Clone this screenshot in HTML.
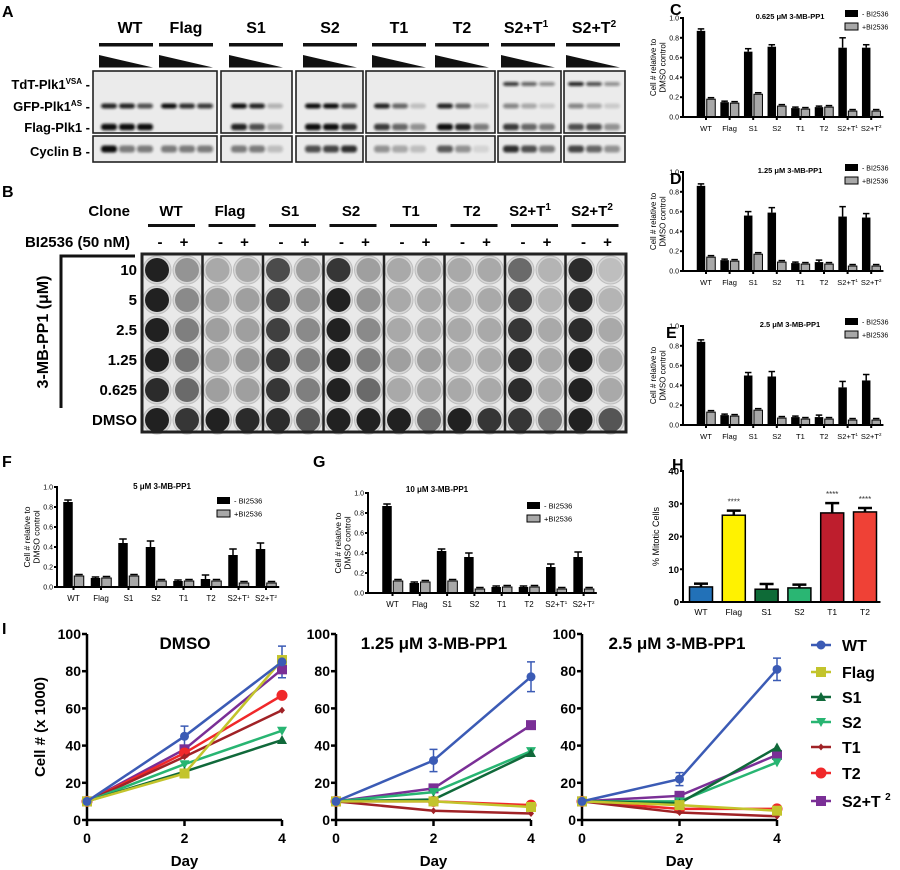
<!DOCTYPE html>
<html><head><meta charset="utf-8">
<style>
html,body{margin:0;padding:0;background:#fff;}
svg{display:block;font-family:"Liberation Sans",Arial,sans-serif;}
.b{font-weight:bold;}
</style></head>
<body>
<svg id="fig" width="900" height="870" viewBox="0 0 900 870" xmlns="http://www.w3.org/2000/svg">
<defs>
<filter id="blur" x="-50%" y="-100%" width="200%" height="300%"><feGaussianBlur stdDeviation="1.3"/></filter>
</defs>
<text x="2" y="17" font-size="16" class="b">A</text>
<text x="2" y="197" font-size="16" class="b">B</text>
<text x="670" y="15" font-size="16" class="b">C</text>
<text x="670" y="184" font-size="16" class="b">D</text>
<text x="666" y="338" font-size="16" class="b">E</text>
<text x="2" y="467" font-size="16" class="b">F</text>
<text x="313" y="467" font-size="16" class="b">G</text>
<text x="672" y="470" font-size="16" class="b">H</text>
<text x="2" y="634" font-size="16" class="b">I</text>

<g class="b" font-size="16" text-anchor="middle">
<text x="130" y="33">WT</text><text x="186" y="33">Flag</text><text x="256" y="33">S1</text><text x="330" y="33">S2</text>
<text x="399" y="33">T1</text><text x="462" y="33">T2</text>
<text x="526" y="33">S2+T<tspan font-size="10" dy="-6">1</tspan></text>
<text x="594" y="33">S2+T<tspan font-size="10" dy="-6">2</tspan></text>
</g>
<g class="b" font-size="13" text-anchor="end">
<text x="90" y="89">TdT-Plk1<tspan font-size="8" dy="-5">VSA</tspan><tspan dy="5"> -</tspan></text>
<text x="90" y="111">GFP-Plk1<tspan font-size="8" dy="-5">AS</tspan><tspan dy="5"> -</tspan></text>
<text x="90" y="132">Flag-Plk1  -</text>
<text x="90" y="156">Cyclin B  -</text>
</g>
<g id="blotA"></g>

<g class="b" font-size="15">
<text x="130" y="216" text-anchor="end">Clone</text>
<text x="130" y="247" text-anchor="end">BI2536 (50 nM)</text>
</g>
<g class="b" font-size="15" text-anchor="middle">
<text x="171" y="216">WT</text><text x="230" y="216">Flag</text><text x="290" y="216">S1</text><text x="351" y="216">S2</text>
<text x="411" y="216">T1</text><text x="472" y="216">T2</text>
<text x="530" y="216">S2+T<tspan font-size="10" dy="-6">1</tspan></text>
<text x="592" y="216">S2+T<tspan font-size="10" dy="-6">2</tspan></text>
</g>
<g class="b" font-size="15" text-anchor="end">
<text x="137" y="275">10</text><text x="137" y="305">5</text><text x="137" y="335">2.5</text>
<text x="137" y="365">1.25</text><text x="137" y="395">0.625</text><text x="137" y="425">DMSO</text>
</g>
<path d="M135 256 H61 V408" stroke="#111" stroke-width="3" fill="none"/>
<text transform="translate(48,332) rotate(-90)" text-anchor="middle" font-size="16" class="b">3-MB-PP1 (μM)</text>
<g id="plateB"></g>

<g id="barC"></g>
<g id="barD"></g>
<g id="barE"></g>
<g id="barF"></g>
<g id="barG"></g>
<g id="barH"></g>
<g id="lineI"></g>
</svg>

<script>
const barCategories = ['WT','Flag','S1','S2','T1','T2','S2+T1','S2+T2'];
const cMinus = [0.87,0.15,0.66,0.71,0.09,0.10,0.70,0.70];
const cPlus  = [0.18,0.14,0.23,0.11,0.08,0.10,0.06,0.06];
const cMinusErr = [0.02,0.01,0.03,0.02,0.01,0.01,0.10,0.03];
const dMinus = [0.86,0.11,0.56,0.59,0.08,0.09,0.55,0.54];
const dPlus  = [0.14,0.10,0.17,0.09,0.07,0.07,0.05,0.05];
const dMinusErr = [0.02,0.01,0.04,0.05,0.01,0.02,0.10,0.04];
const eMinus = [0.84,0.10,0.50,0.49,0.08,0.08,0.38,0.45];
const ePlus  = [0.13,0.09,0.15,0.07,0.06,0.06,0.05,0.05];
const eMinusErr = [0.02,0.01,0.03,0.05,0.01,0.02,0.06,0.06];
const fMinus = [0.85,0.09,0.44,0.40,0.06,0.08,0.32,0.38];
const fPlus  = [0.11,0.09,0.11,0.06,0.06,0.06,0.04,0.04];
const fMinusErr = [0.02,0.01,0.04,0.06,0.01,0.04,0.06,0.06];
const gMinus = [0.87,0.10,0.42,0.36,0.06,0.06,0.26,0.36];
const gPlus  = [0.12,0.11,0.12,0.04,0.06,0.06,0.04,0.04];
const gMinusErr = [0.02,0.01,0.02,0.04,0.01,0.01,0.03,0.05];
const barTicks = [0,0.2,0.4,0.6,0.8,1.0];

const hCategories = ['WT','Flag','S1','S2','T1','T2'];
const hValues = [4.6,26.5,3.9,4.3,27.2,27.5];
const hErr = [1.0,1.4,1.6,1.0,3.0,1.2];
const hStars = [false,true,false,false,true,true];
const hTicks = [0,10,20,30,40];

const days = [0,2,4];
const lineTicks = [0,20,40,60,80,100];
const seriesNames = ['WT','Flag','S1','S2','T1','T2','S2+T2'];
const dmsoWT=[10,45,85], dmsoFlag=[10,25,86], dmsoS1=[10,26,43], dmsoS2=[10,30,48], dmsoT1=[10,34,59], dmsoT2=[10,36,67], dmsoS2T2=[10,38,81];
const lowWT=[10,32,77], lowFlag=[10,10,7], lowS1=[10,11,36], lowS2=[10,15,37], lowT1=[10,5,3.5], lowT2=[10,10,8], lowS2T2=[10,17,51];
const highWT=[10,22,81], highFlag=[10,8,5], highS1=[10,9,39], highS2=[10,10,31], highT1=[10,4,2], highT2=[10,6,6], highS2T2=[10,13,35];
const dmsoWTErr=[1,5.5,8.5], lowWTErr=[1,6,8], highWTErr=[1,3.5,6];

const NS='http://www.w3.org/2000/svg';
function mk(tag, attrs, parent){const e=document.createElementNS(NS,tag);for(const k in attrs)e.setAttribute(k,attrs[k]);parent.appendChild(e);return e;}
function catLabel(parent,label,x,y,fs){
  const t=mk('text',{x:x,y:y,'font-size':fs,'text-anchor':'middle'},parent);
  if(label.startsWith('S2+T')){t.textContent='S2+T';const s=mk('tspan',{'font-size':fs*0.6,dy:-fs*0.4},t);s.textContent=label.slice(4);}
  else t.textContent=label;
  return t;
}

(function(){
  const g=document.getElementById('blotA');
  const groupStarts=[99,159,229,303,372,435,501,566];
  const boxes=[[93,217],[221,292],[296,363],[366,495],[498,561],[564,625]];
  groupStarts.forEach((x,i)=>{
    const ln=mk('rect',{x:x,y:43,width:54,height:3.5,fill:'#111'},g);
    
    
    const tri=mk('polygon',{points:`${x},55 ${x+54},67.5 ${x},67.5`,fill:'#111'},g);
    
    
  });
  boxes.forEach(b=>{
    const r1=mk('rect',{x:b[0],y:71,width:b[1]-b[0],height:62,fill:'#ebebeb',stroke:'#222','stroke-width':1.6},g);
    
    
    const r2=mk('rect',{x:b[0],y:136,width:b[1]-b[0],height:26,fill:'#ebebeb',stroke:'#222','stroke-width':1.6},g);
    
    
  });
  const tdt=[[0,0,0],[0,0,0],[0,0,0],[0,0,0],[0,0,0],[0,0,0],[.8,.6,.4],[.9,.7,.4]];
  const gfp=[[.9,.9,.7],[1,.85,.8],[1,.9,.25],[1,1,.7],[.9,.6,.2],[.9,.6,.15],[.45,.3,.15],[.45,.3,.15]];
  const flg=[[1,1,1],[0,0,0],[.9,.7,.3],[1,1,.85],[.8,.6,.4],[1,.9,.5],[.8,.6,.5],[.7,.7,.4]];
  const cyc=[[1,.5,.5],[.5,.5,.5],[.5,.5,.2],[.7,.75,.85],[.4,.3,.2],[.65,.4,.1],[.85,.7,.5],[.75,.6,.4]];
  const rows=[[tdt,84,4],[gfp,106,5],[flg,127,6.5],[cyc,149,7]];
  rows.forEach(([m,y,h])=>{
    groupStarts.forEach((x,i)=>{
      m[i].forEach((v,j)=>{
        if(v<=0)return;
        const band=mk('rect',{x:x+2+j*18,y:y-h/2,width:16,height:h,rx:3,fill:'#111',opacity:v,filter:'url(#blur)'},g);
        
        
      });
    });
  });
})();

(function(){
  const g=document.getElementById('plateB');
  const bg=mk('rect',{x:142,y:254,width:484,height:178,fill:'#e9e9e9'},g);
  
  
  const dark=[
    [[.95,.95,.95,.95,.9,.95],[.4,.45,.5,.55,.6,.85]],
    [[.3,.35,.35,.35,.35,.95],[.3,.35,.35,.4,.35,.9]],
    [[.75,.8,.8,.85,.85,.9],[.35,.4,.45,.5,.5,.7]],
    [[.85,.95,.95,.95,.95,.95],[.35,.4,.45,.5,.6,.95]],
    [[.3,.3,.3,.35,.3,.95],[.3,.3,.3,.35,.3,.6]],
    [[.3,.3,.3,.3,.3,.95],[.3,.3,.3,.3,.3,.85]],
    [[.6,.8,.85,.9,.9,.85],[.25,.25,.3,.3,.3,.55]],
    [[.9,.9,.9,.95,.95,.95],[.2,.25,.3,.3,.3,.7]]];
  const gw=60.5;
  for(let gi=0;gi<8;gi++){
    const x0=142+gi*gw;
    const m=mk('text',{x:x0+18,y:247,'font-size':15,'font-weight':'bold','text-anchor':'middle'},g);m.textContent='-';
    
    
    const p=mk('text',{x:x0+42,y:247,'font-size':15,'font-weight':'bold','text-anchor':'middle'},g);p.textContent='+';
    
    
    const ul=mk('rect',{x:x0+6,y:224,width:47,height:3,fill:'#111'},g);
    
    
    for(let c=0;c<2;c++)for(let r=0;r<6;r++){
      const d=dark[gi][c][r];const v=Math.round(232-d*210);
      const cx=x0+15+c*30, cy=270+r*30;
      const ring=mk('circle',{cx:cx,cy:cy,r:14,fill:'#d8d8d8',stroke:'#bdbdbd','stroke-width':1},g);
      
      
      const w=mk('circle',{cx:cx,cy:cy,r:12,fill:`rgb(${v},${v},${v})`},g);
      
      
    }
    if(gi>0){const dv=mk('line',{x1:x0,y1:254,x2:x0,y2:432,stroke:'#222','stroke-width':2.5},g);
      
      }
  }
  const fr=mk('rect',{x:142,y:254,width:484,height:178,fill:'none',stroke:'#222','stroke-width':3},g);
  
  
})();

function drawBar(id,cfg,minus,plus,minusErr){
  const g=document.getElementById(id);
  const y=v=>cfg.y0-v*(cfg.y0-cfg.y1);
  const bw=cfg.bw, gap=cfg.bw+1.5;
  minus.forEach((v,i)=>{
    const cx=cfg.x0+i*cfg.step;
    const eb=mk('line',{x1:cx,y1:y(v),x2:cx,y2:y(v+minusErr[i]),stroke:'#000','stroke-width':1.5},g);
    
    
    const cap=mk('line',{x1:cx-bw/2+1,y1:y(v+minusErr[i]),x2:cx+bw/2-1,y2:y(v+minusErr[i]),stroke:'#000','stroke-width':1.5},g);
    
    
    const b=mk('rect',{x:cx-bw/2,y:y(v),width:bw,height:cfg.y0-y(v),fill:'#000'},g);
    
    
    const pv=plus[i];
    const b2=mk('rect',{x:cx+gap-bw/2,y:y(pv),width:bw,height:cfg.y0-y(pv),fill:'#a8a8a8',stroke:'#000','stroke-width':1},g);
    
    
    const pc=mk('line',{x1:cx+gap-bw/2+1,y1:y(pv)-1.5,x2:cx+gap+bw/2-1,y2:y(pv)-1.5,stroke:'#000','stroke-width':1.5},g);
    
    
    const tk=mk('line',{x1:cx+gap/2,y1:cfg.y0,x2:cx+gap/2,y2:cfg.y0+3,stroke:'#000','stroke-width':2},g);
    
    
    const lb=catLabel(g,barCategories[i],cx+gap/2,cfg.y0+14,cfg.fs);
    
    
  });
  const xend=cfg.x0+(minus.length-1)*cfg.step+gap+bw/2+3;
  const ax=mk('line',{x1:cfg.ax,y1:cfg.y1-1,x2:cfg.ax,y2:cfg.y0+1,stroke:'#000','stroke-width':2},g);
  
  
  const xa=mk('line',{x1:cfg.ax,y1:cfg.y0,x2:xend,y2:cfg.y0,stroke:'#000','stroke-width':2},g);
  
  
  barTicks.forEach(t=>{
    const tk=mk('line',{x1:cfg.ax-3,y1:y(t),x2:cfg.ax,y2:y(t),stroke:'#000','stroke-width':2},g);
    
    
    const tl=mk('text',{x:cfg.ax-4,y:y(t)+2.5,'font-size':7,'text-anchor':'end'},g);tl.textContent=t.toFixed(1);
    
    
  });
  const mid=(cfg.y0+cfg.y1)/2, lx=cfg.ax-22;
  const yl=mk('text',{transform:`translate(${lx},${mid}) rotate(-90)`,'font-size':cfg.fs+0.5,'text-anchor':'middle'},g);
  
  
  const s1=mk('tspan',{x:0,y:-5},yl);s1.textContent='Cell # relative to';
  const s2=mk('tspan',{x:0,y:4.5},yl);s2.textContent='DMSO control';
  const ti=mk('text',{x:cfg.tx,y:cfg.ty,'font-size':cfg.fs,'font-weight':'bold','text-anchor':'middle'},g);ti.textContent=cfg.title;
  
  
  const lk1=mk('rect',{x:cfg.lx,y:cfg.ly,width:13,height:7,fill:'#000'},g);
  
  
  const lt1=mk('text',{x:cfg.lx+17,y:cfg.ly+6.5,'font-size':cfg.fs-0.5},g);lt1.textContent='- BI2536';
  
  
  const lk2=mk('rect',{x:cfg.lx,y:cfg.ly+13,width:13,height:7,fill:'#a8a8a8',stroke:'#000','stroke-width':1},g);
  
  
  const lt2=mk('text',{x:cfg.lx+17,y:cfg.ly+19.5,'font-size':cfg.fs-0.5},g);lt2.textContent='+BI2536';
  
  
}
const cdeBase={ax:683,x0:701,step:23.6,bw:8.5,fs:7.5,tx:790,lx:845};
drawBar('barC',Object.assign({},cdeBase,{y0:117,y1:18,ty:19,ly:10,title:'0.625 μM 3-MB-PP1'}),cMinus,cPlus,cMinusErr);
drawBar('barD',Object.assign({},cdeBase,{y0:271,y1:172,ty:173,ly:164,title:'1.25 μM 3-MB-PP1'}),dMinus,dPlus,dMinusErr);
drawBar('barE',Object.assign({},cdeBase,{y0:425,y1:326,ty:327,ly:318,title:'2.5 μM 3-MB-PP1'}),eMinus,ePlus,eMinusErr);
drawBar('barF',{ax:57,x0:68,step:27.5,bw:9.5,fs:8,y0:587,y1:487,tx:162,ty:489,lx:217,ly:497,title:'5 μM 3-MB-PP1'},fMinus,fPlus,fMinusErr);
drawBar('barG',{ax:368,x0:387,step:27.3,bw:9.5,fs:8,y0:593,y1:493,tx:437,ty:492,lx:527,ly:502,title:'10 μM 3-MB-PP1'},gMinus,gPlus,gMinusErr);

(function(){
  const g=document.getElementById('barH');
  const y0=602,y1=471,ax=683,x0=701,step=32.8,bw=23;
  const y=v=>y0-v/40*(y0-y1);
  const colors=['#2271b8','#fff200','#0e6b37','#2ab673','#be1e2d','#ef4136'];
  hValues.forEach((v,i)=>{
    const cx=x0+i*step;
    const eb=mk('line',{x1:cx,y1:y(v),x2:cx,y2:y(v+hErr[i]),stroke:'#000','stroke-width':2.5},g);
    
    
    const cap=mk('line',{x1:cx-7,y1:y(v+hErr[i]),x2:cx+7,y2:y(v+hErr[i]),stroke:'#000','stroke-width':2.5},g);
    
    
    const b=mk('rect',{x:cx-bw/2,y:y(v),width:bw,height:y0-y(v),fill:colors[i],stroke:'#000','stroke-width':1.5},g);
    
    
    if(hStars[i]){const s=mk('text',{x:cx,y:y(v+hErr[i])-6,'font-size':8,'text-anchor':'middle',fill:'#333'},g);s.textContent='****';
      
      }
    const l=mk('text',{x:cx,y:y0+13,'font-size':8.5,'text-anchor':'middle'},g);l.textContent=hCategories[i];
    
    
  });
  const a1=mk('line',{x1:ax,y1:y1-1,x2:ax,y2:y0+1,stroke:'#000','stroke-width':2},g);
  
  
  const a2=mk('line',{x1:ax,y1:y0,x2:x0+5*step+bw/2+4,y2:y0,stroke:'#000','stroke-width':2},g);
  
  
  hTicks.forEach(t=>{
    const tk=mk('line',{x1:ax-3,y1:y(t),x2:ax,y2:y(t),stroke:'#000','stroke-width':2},g);
    
    
    const tl=mk('text',{x:ax-4,y:y(t)+3.5,'font-size':9.5,'font-weight':'bold','text-anchor':'end'},g);tl.textContent=t;
    
    
  });
  const yl=mk('text',{transform:`translate(659,${(y0+y1)/2}) rotate(-90)`,'font-size':9,'text-anchor':'middle'},g);yl.textContent='% Mitotic Cells';
  
  
})();

const seriesColors=['#3b5bb5','#c3c42c','#10693a','#28b572','#a02226','#f0282a','#7a2f96'];
const seriesMarkers=['circle','square','tri','tridown','diamond','bigcircle','square'];
function marker(g,type,x,y,c){
  let e;
  if(type==='circle')e=mk('circle',{cx:x,cy:y,r:4.5,fill:c},g);
  else if(type==='bigcircle')e=mk('circle',{cx:x,cy:y,r:5.5,fill:c},g);
  else if(type==='square')e=mk('rect',{x:x-5,y:y-5,width:10,height:10,fill:c},g);
  else if(type==='tri')e=mk('polygon',{points:`${x},${y-5} ${x+5},${y+4} ${x-5},${y+4}`,fill:c},g);
  else if(type==='tridown')e=mk('polygon',{points:`${x},${y+5} ${x+5},${y-4} ${x-5},${y-4}`,fill:c},g);
  else e=mk('polygon',{points:`${x},${y-3.5} ${x+3},${y} ${x},${y+3.5} ${x-3},${y}`,fill:c},g);
  return e;
}
function drawLine(cfg,series,wtErr){
  const g=document.getElementById('lineI');
  const y0=820,y1=634;
  const X=d=>cfg.x0+d/4*(cfg.x4-cfg.x0);
  const Y=v=>y0-v/100*(y0-y1);
  const ax=mk('line',{x1:cfg.x0,y1:y1,x2:cfg.x0,y2:y0+1,stroke:'#000','stroke-width':2.5},g);
  
  
  const xa=mk('line',{x1:cfg.x0,y1:y0,x2:cfg.x4,y2:y0,stroke:'#000','stroke-width':2.5},g);
  
  
  lineTicks.forEach(t=>{
    const tk=mk('line',{x1:cfg.x0-5,y1:Y(t),x2:cfg.x0,y2:Y(t),stroke:'#000','stroke-width':2.5},g);
    
    
    const tl=mk('text',{x:cfg.x0-6,y:Y(t)+5,'font-size':14,'font-weight':'bold','text-anchor':'end'},g);tl.textContent=t;
    
    
  });
  days.forEach(d=>{
    const tk=mk('line',{x1:X(d),y1:y0,x2:X(d),y2:y0+6,stroke:'#000','stroke-width':2.5},g);
    
    
    const tl=mk('text',{x:X(d),y:y0+23,'font-size':14,'font-weight':'bold','text-anchor':'middle'},g);tl.textContent=d;
    
    
  });
  const xl=mk('text',{x:(cfg.x0+cfg.x4)/2,y:866,'font-size':15,'font-weight':'bold','text-anchor':'middle'},g);xl.textContent='Day';
  
  
  const ti=mk('text',{x:cfg.tx,y:649,'font-size':17,'font-weight':'bold','text-anchor':'middle'},g);ti.textContent=cfg.title;
  
  
  days.forEach((d,k)=>{
    const v=series[0][k],e=wtErr[k];
    const eb=mk('path',{d:`M${X(d)} ${Y(v-e)} V${Y(v+e)} M${X(d)-4} ${Y(v-e)} H${X(d)+4} M${X(d)-4} ${Y(v+e)} H${X(d)+4}`,stroke:seriesColors[0],'stroke-width':1.5,fill:'none'},g);
    
    
  });
  series.slice().reverse().forEach((s,ri)=>{
    const i=series.length-1-ri;
    const pts=s.map((v,k)=>`${X(days[k])},${Y(v)}`).join(' ');
    const pl=mk('polyline',{points:pts,fill:'none',stroke:seriesColors[i],'stroke-width':2.5},g);
    
    
    s.forEach((v,k)=>{
      const m=marker(g,seriesMarkers[i],X(days[k]),Y(v),seriesColors[i]);
      
      
    });
  });
}
drawLine({x0:87,x4:282,tx:185,title:'DMSO'},[dmsoWT,dmsoFlag,dmsoS1,dmsoS2,dmsoT1,dmsoT2,dmsoS2T2],dmsoWTErr);
drawLine({x0:336,x4:531,tx:434,title:'1.25 μM 3-MB-PP1'},[lowWT,lowFlag,lowS1,lowS2,lowT1,lowT2,lowS2T2],lowWTErr);
drawLine({x0:582,x4:777,tx:677,title:'2.5 μM 3-MB-PP1'},[highWT,highFlag,highS1,highS2,highT1,highT2,highS2T2],highWTErr);
(function(){
  const g=document.getElementById('lineI');
  const yl=mk('text',{transform:'translate(45,727) rotate(-90)','font-size':15,'font-weight':'bold','text-anchor':'middle'},g);yl.textContent='Cell # (x 1000)';
  
  
  const ys=[645,672,697,722,747,773,801];
  seriesNames.forEach((n,i)=>{
    const l=mk('line',{x1:811,y1:ys[i],x2:831,y2:ys[i],stroke:seriesColors[i],'stroke-width':2.5},g);
    
    
    const m=marker(g,seriesMarkers[i],821,ys[i],seriesColors[i]);
    
    
    const t=mk('text',{x:842,y:ys[i]+6,'font-size':16,'font-weight':'bold'},g);
    if(n==='S2+T2'){t.textContent='S2+T ';const s=mk('tspan',{'font-size':10,dy:-7},t);s.textContent='2';}
    else t.textContent=n;
    
    
  });
})();
</script>
</body></html>
